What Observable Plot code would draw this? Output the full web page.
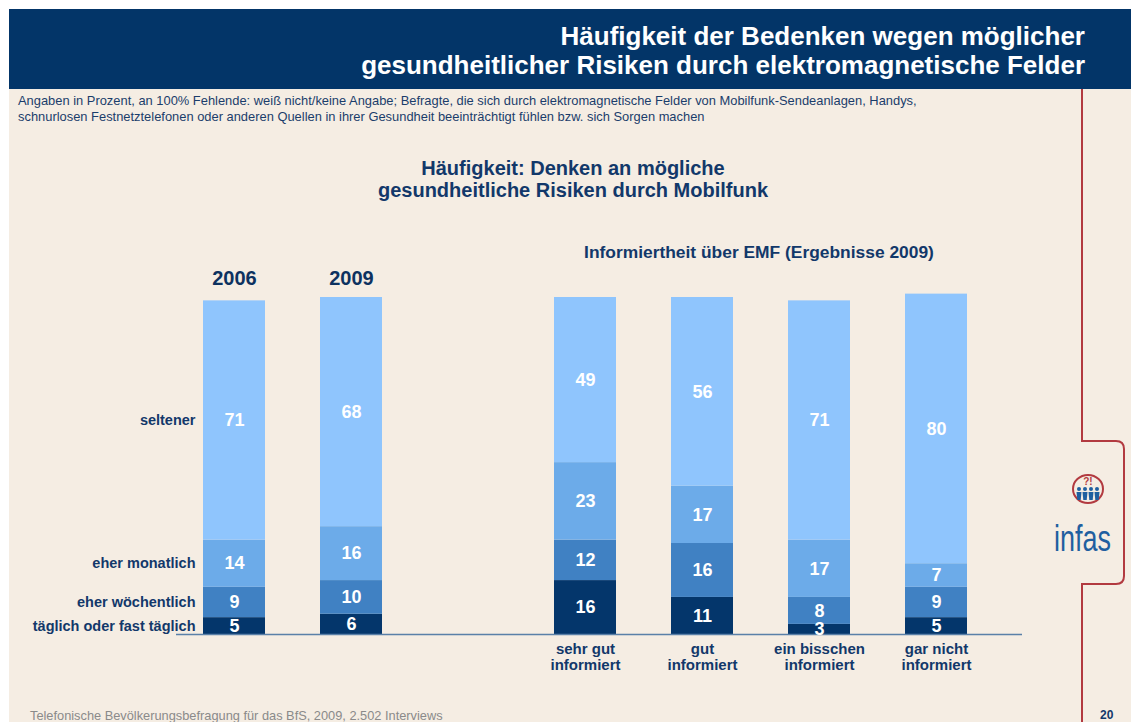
<!DOCTYPE html>
<html>
<head>
<meta charset="utf-8">
<script src="https://cdn.jsdelivr.net/npm/d3@7"></script>
<script src="https://cdn.jsdelivr.net/npm/@observablehq/plot@0.6"></script>
<style>
  html, body { margin: 0; padding: 0; background: #ffffff; }
  #page { position: relative; width: 1131px; height: 722px; overflow: hidden; font-family: "Liberation Sans", Arial, sans-serif; }
  #slide { position: absolute; left: 9px; top: 9px; width: 1122px; height: 713px; background: #f5ede3; }
  #header { position: absolute; left: 9px; top: 9px; width: 1122px; height: 80px; background: #033568; }
  #title { position: absolute; right: 46px; top: 22px; text-align: right; color: #ffffff; font-weight: bold; font-size: 26px; line-height: 29px; white-space: nowrap; }
  #subtitle { position: absolute; left: 18px; top: 93px; color: #1b3d6b; font-size: 12.9px; line-height: 15.5px; white-space: nowrap; }
  #charttitle { position: absolute; left: 173px; width: 800px; top: 157px; text-align: center; color: #12386a; font-weight: bold; font-size: 20px; line-height: 22px; }
  #subhead { position: absolute; left: 459px; width: 600px; top: 242px; text-align: center; color: #12386a; font-weight: bold; font-size: 17.4px; line-height: 20px; }
  #chart { position: absolute; left: 0; top: 200px; }
  #footer { position: absolute; left: 30px; top: 708px; color: #8a8a8a; font-size: 12.8px; white-space: nowrap; }
  #pagenum { position: absolute; left: 1100px; top: 708px; color: #12386a; font-size: 12px; font-weight: bold; }
  #deco { position: absolute; left: 0; top: 0; }
</style>
</head>
<body>
<div id="page">
  <div id="slide"></div>
  <div id="header"></div>
  <div id="title">Häufigkeit der Bedenken wegen möglicher<br>gesundheitlicher Risiken durch elektromagnetische Felder</div>
  <div id="subtitle">Angaben in Prozent, an 100% Fehlende: weiß nicht/keine Angabe; Befragte, die sich durch elektromagnetische Felder von Mobilfunk-Sendeanlagen, Handys,<br>schnurlosen Festnetztelefonen oder anderen Quellen in ihrer Gesundheit beeinträchtigt fühlen bzw. sich Sorgen machen</div>
  <div id="charttitle">Häufigkeit: Denken an mögliche<br>gesundheitliche Risiken durch Mobilfunk</div>
  <div id="subhead">Informiertheit über EMF (Ergebnisse 2009)</div>
  <div id="chart"></div>
  <svg id="deco" width="1131" height="722">
    <path d="M1082 89 V441 H1116 Q1124 441 1124 449 V576 Q1124 584 1116 584 H1082 V722" fill="none" stroke="#b23a40" stroke-width="2"/>
    <ellipse cx="1088" cy="489" rx="15" ry="14" fill="none" stroke="#b23a40" stroke-width="2"/>
    <text x="1088" y="485" text-anchor="middle" font-family="Liberation Sans, Arial" font-weight="bold" font-size="10" fill="#b23a40">?!</text>
    <g fill="#1f5fa0">
      <circle cx="1079" cy="489" r="2"/><path d="M1076.5 492 h5 l-0.8 8 h-3.4 z"/>
      <circle cx="1085" cy="489" r="2"/><path d="M1082.5 492 h5 l-0.8 8 h-3.4 z"/>
      <circle cx="1091" cy="489" r="2"/><path d="M1088.5 492 h5 l-0.8 8 h-3.4 z"/>
      <circle cx="1097" cy="489" r="2"/><path d="M1094.5 492 h5 l-0.8 8 h-3.4 z"/>
    </g>
    <text transform="translate(1054,551) scale(0.93,1.3)" font-family="Liberation Sans, Arial" font-size="29" fill="#1f5fa0">infas</text>
  </svg>
  <div id="footer">Telefonische Bevölkerungsbefragung für das BfS, 2009, 2.502 Interviews</div>
  <div id="pagenum">20</div>
</div>
<script>
// ---- data ----
const series = ["täglich oder fast täglich", "eher wöchentlich", "eher monatlich", "seltener"];
const columns = ["2006", "2009", "sehr gut informiert", "gut informiert", "ein bisschen informiert", "gar nicht informiert"];
const taeglich     = [5, 6, 16, 11, 3, 5];
const woechentlich = [9, 10, 12, 16, 8, 9];
const monatlich    = [14, 16, 23, 17, 17, 7];
const seltener     = [71, 68, 49, 56, 71, 80];
const yearColumns = ["2006", "2009"];
const emfColumns = ["sehr gut informiert", "gut informiert", "ein bisschen informiert", "gar nicht informiert"];
const emfLabels = ["sehr gut\ninformiert", "gut\ninformiert", "ein bisschen\ninformiert", "gar nicht\ninformiert"];
const colors = ["#04366b", "#4081c3", "#6cabe9", "#8fc5fd"];

// ---- table ----
const valuesBySeries = [taeglich, woechentlich, monatlich, seltener];
const table = [];
series.forEach((s, i) => columns.forEach((c, j) => table.push({series: s, col: c, value: valuesBySeries[i][j]})));
const xDomain = [...yearColumns, "gap", ...emfColumns];
const dark = "#12386a";

const chart = Plot.plot({
  width: 1131,
  height: 480,
  marginLeft: 176,
  marginRight: 109,
  marginTop: 97,
  marginBottom: 46,
  x: {domain: xDomain, paddingInner: 0.471, paddingOuter: 0.345, align: 0.334, axis: null},
  y: {domain: [0, 100], axis: null},
  color: {domain: series, range: colors},
  style: {background: "transparent", fontFamily: "Liberation Sans, Arial, sans-serif", overflow: "visible"},
  marks: [
    Plot.barY(table, {x: "col", y: "value", fill: "series"}),
    Plot.ruleY([0], {stroke: "#5a80a8", strokeWidth: 1.5}),
    Plot.text(table, Plot.stackY({x: "col", y: "value", text: "value", fill: "white", fontSize: 18, fontWeight: "bold"})),
    Plot.text(table.filter(d => d.col === "2006"), Plot.stackY({x: "col", y: "value", text: "series", textAnchor: "end", dx: -39, fill: dark, fontSize: 14.5, fontWeight: "bold"})),
    Plot.text(yearColumns, {x: d => d, text: d => d, frameAnchor: "top", lineAnchor: "middle", dy: -19, fill: "#0d3260", fontSize: 20, fontWeight: "bold"}),
    Plot.text(emfColumns, {x: d => d, text: (d, i) => emfLabels[i], frameAnchor: "bottom", lineAnchor: "top", dy: 8, lineHeight: 1.07, fill: dark, fontSize: 15, fontWeight: "bold"})
  ]
});
document.getElementById("chart").appendChild(chart);
</script>
</body>
</html>
